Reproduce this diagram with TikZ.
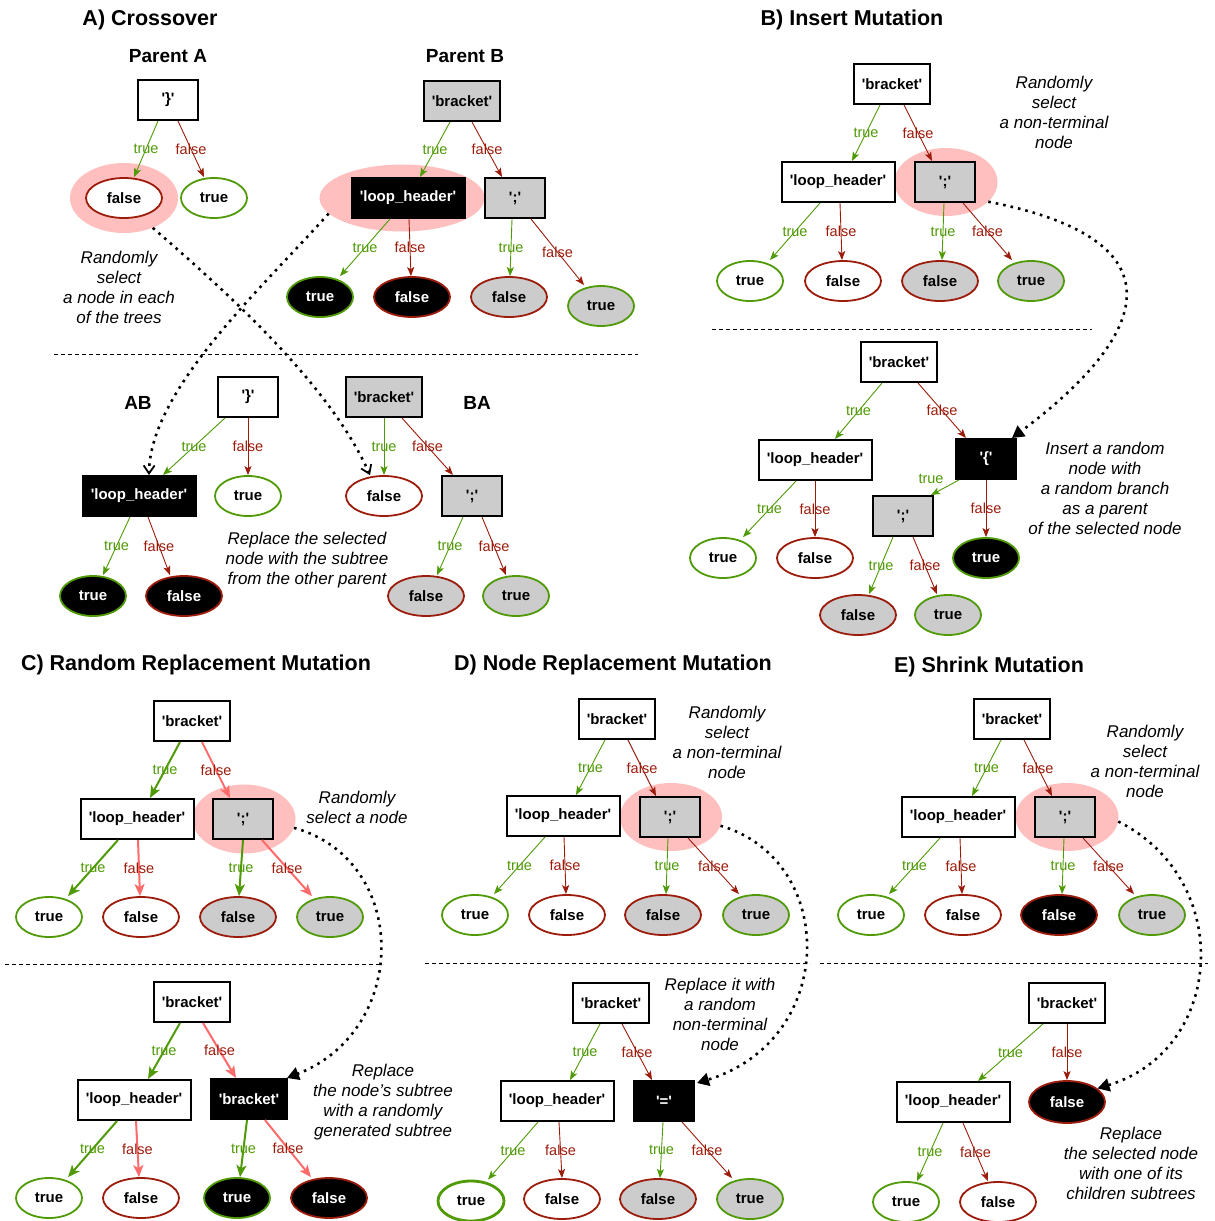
\documentclass[tikz,border=0pt]{standalone}
\usepackage{fontspec}
\setmainfont{Liberation Sans}[Ligatures=TeXOff]
\usetikzlibrary{shapes.geometric,arrows.meta}
\definecolor{tgreen}{HTML}{4F9A06}
\definecolor{fred}{HTML}{9C1C0C}
\definecolor{lred}{HTML}{FF6A6A}
\definecolor{hpink}{HTML}{FFBFBF}
\definecolor{ngray}{HTML}{CCCCCC}
\newcommand{\tEdge}[5][te]{\draw[#1] ([xshift=#3pt]#2.south) -- node[tlab]{true} ([xshift=#5pt]#4.north);}
\newcommand{\fEdge}[5][fe]{\draw[#1] ([xshift=#3pt]#2.south) -- node[flab]{false} ([xshift=#5pt]#4.north);}
\begin{document}
\begin{tikzpicture}[x=1pt,y=-1pt,
 nfont/.style={font=\fontsize{15}{18}\selectfont\bfseries},
 box/.style={draw=black, line width=2pt, rectangle, minimum height=40pt, inner sep=0pt, nfont},
 bs/.style={box, minimum width=60pt},
 bb/.style={box, minimum width=76pt},
 bl/.style={box, minimum width=113pt},
 gr/.style={fill=ngray},
 bk/.style={fill=black, text=white},
 wh/.style={fill=white},
 leaf/.style={ellipse, line width=1.8pt, minimum height=40pt, inner sep=0pt, nfont},
 lt/.style={leaf, draw=tgreen, minimum width=66pt},
 lf/.style={leaf, draw=fred, minimum width=76pt},
 hl/.style={ellipse, fill=hpink, draw=none, inner sep=0pt},
 te/.style={draw=tgreen, line width=0.9pt, -{Stealth[length=9pt,width=7pt,inset=2pt]}},
 fe/.style={draw=fred, line width=0.9pt, -{Stealth[length=9pt,width=7pt,inset=2pt]}},
 teC/.style={draw=tgreen, line width=2pt, -{Stealth[length=12pt,width=10pt,inset=3pt]}},
 feC/.style={draw=lred, line width=2pt, -{Stealth[length=12pt,width=10pt,inset=3pt]}},
 tlab/.style={text=tgreen, font=\fontsize{14.5}{17}\selectfont, inner sep=0pt},
 flab/.style={text=fred, font=\fontsize{14.5}{17}\selectfont, inner sep=0pt},
 ann/.style={font=\fontsize{17}{20}\selectfont\itshape, align=center, inner sep=0pt},
 ttl/.style={font=\fontsize{21.5}{24}\selectfont\bfseries, inner sep=0pt},
 sub/.style={font=\fontsize{19}{22}\selectfont\bfseries, inner sep=0pt},
 sep/.style={line width=0.9pt, dash pattern=on 4pt off 3pt},
 dotc/.style={line width=2.6pt, dash pattern=on 2.6pt off 5pt},
 barb/.style={-{Straight Barb[length=8pt,width=11pt,line width=1.8pt]}},
 tri/.style={-{Triangle[length=12pt,width=13pt]}}
]
\useasboundingbox (0,0) rectangle (1215,1221);

% ================= Panel A =================
\node[ttl] (tA) at (150,20) {A) Crossover};
\node[sub] (pA) at (168,56) {Parent A};
\node[sub] (pB) at (465,56) {Parent B};
\node[hl, minimum width=108pt, minimum height=70pt] (hlA) at (124,198) {};
\node[hl, minimum width=165pt, minimum height=67pt] (hlB) at (402,198) {};
\node[bs, wh] (PA) at (168,100) {'\}'};
\node[lf, wh] (Af) at (124,198) {false};
\node[lt, wh] (At) at (214,198) {true};
\tEdge{PA}{-10}{Af}{10}
\fEdge{PA}{10}{At}{-10}
\node[bb, gr] (PB) at (462,101) {'bracket'};
\node[bl, bk] (Blh) at (408,198) {'loop\_header'};
\node[bs, gr] (Bs) at (515,198) {';'};
\node[lt, bk] (Bt) at (320,297) {true};
\node[lf, bk] (Bf) at (412,297) {false};
\node[lf, gr] (Bsf) at (509,297) {false};
\node[lt, gr] (Bst) at (601,306) {true};
\tEdge{PB}{-12}{Blh}{12}
\fEdge{PB}{10}{Bs}{-13}
\tEdge{Blh}{-18}{Bt}{20}
\fEdge{Blh}{1}{Bf}{-1}
\tEdge{Bs}{-3}{Bsf}{1}
\fEdge{Bs}{16}{Bst}{-17}
\node[ann] (annA) at (119,287) {Randomly\\select\\a node in each\\of the trees};
\draw[sep] (54,354) -- (638,354);
\node[sub] (lAB) at (138,403) {AB};
\node[sub] (lBA) at (477,403) {BA};
\node[bs, wh] (ABr) at (248,397) {'\}'};
\node[bl, bk] (ABlh) at (139,496) {'loop\_header'};
\node[lt, wh] (ABt) at (248,496) {true};
\node[lt, bk] (ABlt) at (93,596) {true};
\node[lf, bk] (ABlf) at (184,596) {false};
\tEdge{ABr}{-23}{ABlh}{24}
\fEdge{ABr}{0}{ABt}{0}
\tEdge{ABlh}{-9}{ABlt}{10}
\fEdge{ABlh}{9}{ABlf}{-14}
\node[bb, gr] (BAr) at (384,397) {'bracket'};
\node[lf, wh] (BAf) at (384,496) {false};
\node[bs, gr] (BAs) at (472,496) {';'};
\node[lf, gr] (BAsf) at (426,596) {false};
\node[lt, gr] (BAst) at (516,596) {true};
\tEdge{BAr}{0}{BAf}{0}
\fEdge{BAr}{18}{BAs}{-19}
\tEdge{BAs}{-9}{BAsf}{11}
\fEdge{BAs}{10}{BAst}{-10}
\node[ann] (annA2) at (307,560) {Replace the selected\\node with the subtree\\from the other parent};
\draw[dotc, barb] (hlB.192) .. controls (260,290) and (150,390) .. ([xshift=10pt]ABlh.north);
\draw[dotc, barb] (hlA.314) .. controls (230,295) and (330,385) .. ([xshift=-14pt]BAf.north);

% ================= Panel B =================
\node[ttl] (tB) at (852,20) {B) Insert Mutation};
\node[hl, minimum width=103pt, minimum height=68pt] (hlBi) at (946,182) {};
\node[bb, wh] (Br1) at (892,84) {'bracket'};
\node[bl, wh] (Blh1) at (838,182) {'loop\_header'};
\node[bs, gr] (Bs1) at (945,182) {';'};
\node[lt, wh] (B1a) at (750,281) {true};
\node[lf, wh] (B1b) at (843,281) {false};
\node[lf, gr] (B1c) at (940,281) {false};
\node[lt, gr] (B1d) at (1031,281) {true};
\tEdge{Br1}{-12}{Blh1}{14}
\fEdge{Br1}{12}{Bs1}{-13}
\tEdge{Blh1}{-18}{B1a}{20}
\fEdge{Blh1}{2}{B1b}{-1}
\tEdge{Bs1}{-1}{B1c}{2}
\fEdge{Bs1}{18}{B1d}{-19}
\node[ann] (annB1) at (1054,112) {Randomly\\select\\a non-terminal\\node};
\draw[sep] (712,329) -- (1092,329);
\node[bb, wh] (Br2) at (899,362) {'bracket'};
\node[bl, wh] (Blh2) at (815,460) {'loop\_header'};
\node[bs, bk] (Bbr) at (986,459) {'\{'};
\node[bs, gr] (Bs2) at (903,516) {';'};
\node[lt, wh] (B2a) at (723,558) {true};
\node[lf, wh] (B2b) at (815,558) {false};
\node[lt, bk] (B2c) at (986,558) {true};
\node[lf, gr] (B2d) at (858,615) {false};
\node[lt, gr] (B2e) at (948,615) {true};
\tEdge{Br2}{-17}{Blh2}{20}
\fEdge{Br2}{19}{Bbr}{-20}
\tEdge{Blh2}{-19}{B2a}{20}
\fEdge{Blh2}{0}{B2b}{0}
\draw[te] ([xshift=-27pt]Bbr.south) -- node[tlab, pos=0, xshift=-28pt, yshift=1pt]{true} ([xshift=28pt]Bs2.north);
\fEdge{Bbr}{0}{B2c}{0}
\tEdge{Bs2}{-10}{B2d}{11}
\fEdge{Bs2}{10}{B2e}{-11}
\node[ann] (annB2) at (1105,488) {Insert a random\\node with\\a random branch\\as a parent\\of the selected node};
\draw[dotc, tri] (hlBi.335) .. controls (1185,240) and (1150,335) .. ([xshift=-5pt]Bbr.north east);

% ================= Panel C =================
\node[ttl] (tC) at (196,665) {C) Random Replacement Mutation};
\node[hl, minimum width=103pt, minimum height=69pt] (hlC) at (244,819) {};
\node[bb, wh] (Cr1) at (192,721) {'bracket'};
\node[bl, wh] (Clh1) at (137,819) {'loop\_header'};
\node[bs, gr] (Cs1) at (243,819) {';'};
\node[lt, wh] (C1a) at (49,917) {true};
\node[lf, wh] (C1b) at (141,917) {false};
\node[lf, gr] (C1c) at (238,917) {false};
\node[lt, gr] (C1d) at (330,917) {true};
\tEdge[teC]{Cr1}{-12}{Clh1}{13}
\fEdge[feC]{Cr1}{10}{Cs1}{-13}
\tEdge[teC]{Clh1}{-19}{C1a}{19}
\fEdge[feC]{Clh1}{1}{C1b}{-1}
\tEdge[teC]{Cs1}{0}{C1c}{1}
\fEdge[feC]{Cs1}{19}{C1d}{-18}
\node[ann] (annC1) at (357,807) {Randomly\\select a node};
\draw[sep] (5,964) -- (383,964);
\node[bb, wh] (Cr2) at (192,1002) {'bracket'};
\node[bl, wh] (Clh2) at (134,1100) {'loop\_header'};
\node[bb, bk] (Cb) at (249,1099) {'bracket'};
\node[lt, wh] (C2a) at (49,1198) {true};
\node[lf, wh] (C2b) at (141,1198) {false};
\node[lt, bk] (C2c) at (237,1198) {true};
\node[lf, bk] (C2d) at (329,1198) {false};
\tEdge[teC]{Cr2}{-12}{Clh2}{14}
\fEdge[feC]{Cr2}{11}{Cb}{-13}
\tEdge[teC]{Clh2}{-17}{C2a}{19}
\fEdge[feC]{Clh2}{2}{C2b}{-2}
\tEdge[teC]{Cb}{-2}{C2c}{3}
\fEdge[feC]{Cb}{16}{C2d}{-18}
\node[ann] (annC2) at (383,1102) {Replace\\the node’s subtree\\with a randomly\\generated subtree};
\draw[dotc, tri] (hlC.350) .. controls (410,860) and (410,1030) .. ([xshift=-1pt]Cb.north east);

% ================= Panel D =================
\node[ttl] (tD) at (613,665) {D) Node Replacement Mutation};
\node[hl, minimum width=102pt, minimum height=68pt] (hlD) at (671,817) {};
\node[bb, wh] (Dr1) at (617,719) {'bracket'};
\node[bl, wh] (Dlh1) at (563,816) {'loop\_header'};
\node[bs, gr] (Ds1) at (670,817) {';'};
\node[lt, wh] (D1a) at (475,915) {true};
\node[lf, wh] (D1b) at (567,915) {false};
\node[lf, gr] (D1c) at (663,915) {false};
\node[lt, gr] (D1d) at (756,915) {true};
\tEdge{Dr1}{-12}{Dlh1}{13}
\fEdge{Dr1}{11}{Ds1}{-14}
\tEdge{Dlh1}{-18}{D1a}{19}
\fEdge{Dlh1}{1}{D1b}{-1}
\tEdge{Ds1}{-2}{D1c}{3}
\fEdge{Ds1}{18}{D1d}{-17}
\node[ann] (annD1) at (727,742) {Randomly\\select\\a non-terminal\\node};
\draw[sep] (425,963) -- (810,963);
\node[bb, wh] (Dr2) at (611,1003) {'bracket'};
\node[bl, wh] (Dlh2) at (557,1101) {'loop\_header'};
\node[bs, bk] (Deq) at (664,1101) {'='};
\node[lt, wh, line width=2.8pt] (D2a) at (471,1201) {true};
\node[lf, wh] (D2b) at (562,1199) {false};
\node[lf, gr] (D2c) at (658,1199) {false};
\node[lt, gr] (D2d) at (750,1199) {true};
\tEdge{Dr2}{-11}{Dlh2}{13}
\fEdge{Dr2}{11}{Deq}{-12}
\tEdge{Dlh2}{-19}{D2a}{17}
\fEdge{Dlh2}{2}{D2b}{0}
\tEdge{Deq}{-1}{D2c}{2}
\fEdge{Deq}{18}{D2d}{-18}
\node[ann] (annD2) at (720,1014) {Replace it with\\a random\\non-terminal\\node};
\draw[dotc, tri] (hlD.350) .. controls (838,860) and (838,1040) .. ([xshift=2pt,yshift=-3pt]Deq.north east);

% ================= Panel E =================
\node[ttl] (tE) at (989,667) {E) Shrink Mutation};
\node[hl, minimum width=103pt, minimum height=68pt] (hlE) at (1067,817) {};
\node[bb, wh] (Er1) at (1012,719) {'bracket'};
\node[bl, wh] (Elh1) at (958,817) {'loop\_header'};
\node[bs, gr] (Es1) at (1065,817) {';'};
\node[lt, wh] (E1a) at (871,915) {true};
\node[lf, wh] (E1b) at (963,915) {false};
\node[lf, bk] (E1c) at (1059,915) {false};
\node[lt, gr] (E1d) at (1152,915) {true};
\tEdge{Er1}{-11}{Elh1}{14}
\fEdge{Er1}{12}{Es1}{-13}
\tEdge{Elh1}{-18}{E1a}{18}
\fEdge{Elh1}{2}{E1b}{-1}
\tEdge{Es1}{-1}{E1c}{3}
\fEdge{Es1}{18}{E1d}{-18}
\node[ann] (annE1) at (1145,761) {Randomly\\select\\a non-terminal\\node};
\draw[sep] (820,963) -- (1208,963);
\node[bb, wh] (Er2) at (1067,1003) {'bracket'};
\node[bl, wh] (Elh2) at (953,1102) {'loop\_header'};
\node[lf, bk, minimum height=42pt] (Ef) at (1067,1102) {false};
\node[lt, wh] (E2a) at (906,1202) {true};
\node[lf, wh] (E2b) at (998,1202) {false};
\tEdge{Er2}{-24}{Elh2}{25}
\fEdge{Er2}{0}{Ef}{0}
\tEdge{Elh2}{-10}{E2a}{11}
\fEdge{Elh2}{10}{E2b}{-10}
\node[ann] (annE2) at (1131,1163) {Replace\\the selected node\\with one of its\\children subtrees};
\draw[dotc, tri] (hlE.355) .. controls (1235,880) and (1225,1050) .. (Ef.24);
\end{tikzpicture}
\end{document}
